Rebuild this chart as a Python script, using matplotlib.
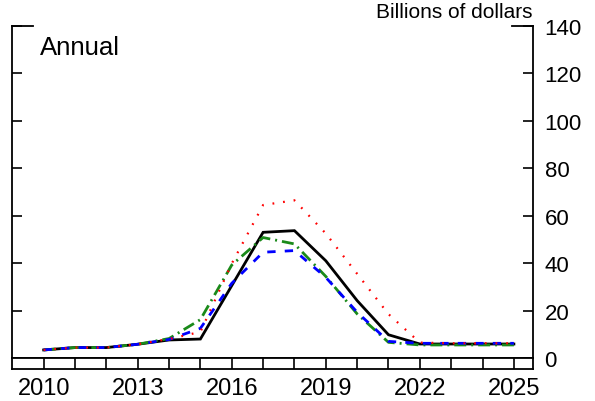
import matplotlib.pyplot as plt
from matplotlib.lines import Line2D

plt.rcParams['font.family'] = ['Liberation Sans', 'DejaVu Sans']

# values (billions of dollars, annual)
years = list(range(2010, 2026))
solid_black = [3.4, 4.4, 4.4, 5.8, 7.6, 8.0, 30.5, 53.0, 53.7, 41.0, 24.2, 9.8, 5.9, 5.9, 5.9, 5.9]
dotted_red = [3.4, 4.4, 4.4, 5.8, 8.0, 11.0, 39.8, 64.5, 66.5, 52.5, 35.5, 18.5, 6.5, 6.2, 6.2, 6.2]
dashdot_green = [3.4, 4.4, 4.4, 5.8, 8.2, 16.2, 39.2, 50.8, 48.1, 34.4, 18.6, 6.6, 5.5, 5.5, 5.5, 5.5]
dashed_blue = [3.4, 4.4, 4.4, 5.8, 7.8, 12.5, 31.5, 44.6, 45.3, 34.0, 19.3, 7.0, 6.2, 6.2, 6.2, 6.2]
label_years = [2010, 2013, 2016, 2019, 2022, 2025]
y_ticks = [0, 20, 40, 60, 80, 100, 120, 140]

W, H = 595, 402
fig = plt.figure(figsize=(W / 100, H / 100), dpi=100)

# pixel geometry of the plot area
left_px, right_px = 12.3, 532.7
top_px, bottom_px = 27, 359
strip_px = 370

ax = fig.add_axes([left_px / W, (H - bottom_px) / H,
                   (right_px - left_px) / W, (bottom_px - top_px) / H])

ax.plot(years, solid_black, color='black', lw=2.0, solid_joinstyle='miter', zorder=3)
ax.plot(years, dashdot_green, color='#1a8a1a', lw=2.0,
        dashes=(4.3, 1.8, 0.7, 1.8), zorder=4)
ax.plot(years, dashed_blue, color='#0000ff', lw=2.0, dashes=(3.0, 3.3), zorder=5)
ax.plot(years, dotted_red, color='#ff0000', lw=1.6, dashes=(0.8, 4.0), zorder=6)

ax.set_xlim(2009.0, 2025.6)
ax.set_ylim(0, 140)
ax.set_xticks([])
ax.set_yticks(y_ticks)
ax.tick_params(axis='y', direction='in', length=7.2, width=1.2,
               left=True, right=True, labelleft=False, labelright=True,
               labelsize=16, pad=8.5)
ax.spines['top'].set_visible(False)
for s in ['left', 'right', 'bottom']:
    ax.spines[s].set_linewidth(1.3)

# longer ticks at the top corners
corner = 21 / (right_px - left_px)
ax.add_line(Line2D([0, corner], [1, 1], transform=ax.transAxes, color='black', lw=1.3, clip_on=False))
ax.add_line(Line2D([1 - corner, 1], [1, 1], transform=ax.transAxes, color='black', lw=1.3, clip_on=False))

# year strip under the plot
strip = fig.add_axes([left_px / W, (H - strip_px) / H,
                      (right_px - left_px) / W, (strip_px - bottom_px) / H])
strip.set_xlim(ax.get_xlim())
strip.set_ylim(0, 1)
for yr in years:
    strip.axvline(yr, color='black', lw=1.2)
strip.set_yticks([])
strip.set_xticks(label_years)
strip.set_xticklabels([str(y) for y in label_years])
strip.tick_params(axis='x', length=0, labelsize=17, pad=6)
for s in strip.spines.values():
    s.set_linewidth(1.3)

fig.text(40 / W, (H - 55) / H, 'Annual', fontsize=18.5, ha='left', va='baseline')
fig.text(532 / W, (H - 18.3) / H, 'Billions of dollars', fontsize=15, ha='right', va='baseline')

fig.savefig('out.png', dpi=100)
